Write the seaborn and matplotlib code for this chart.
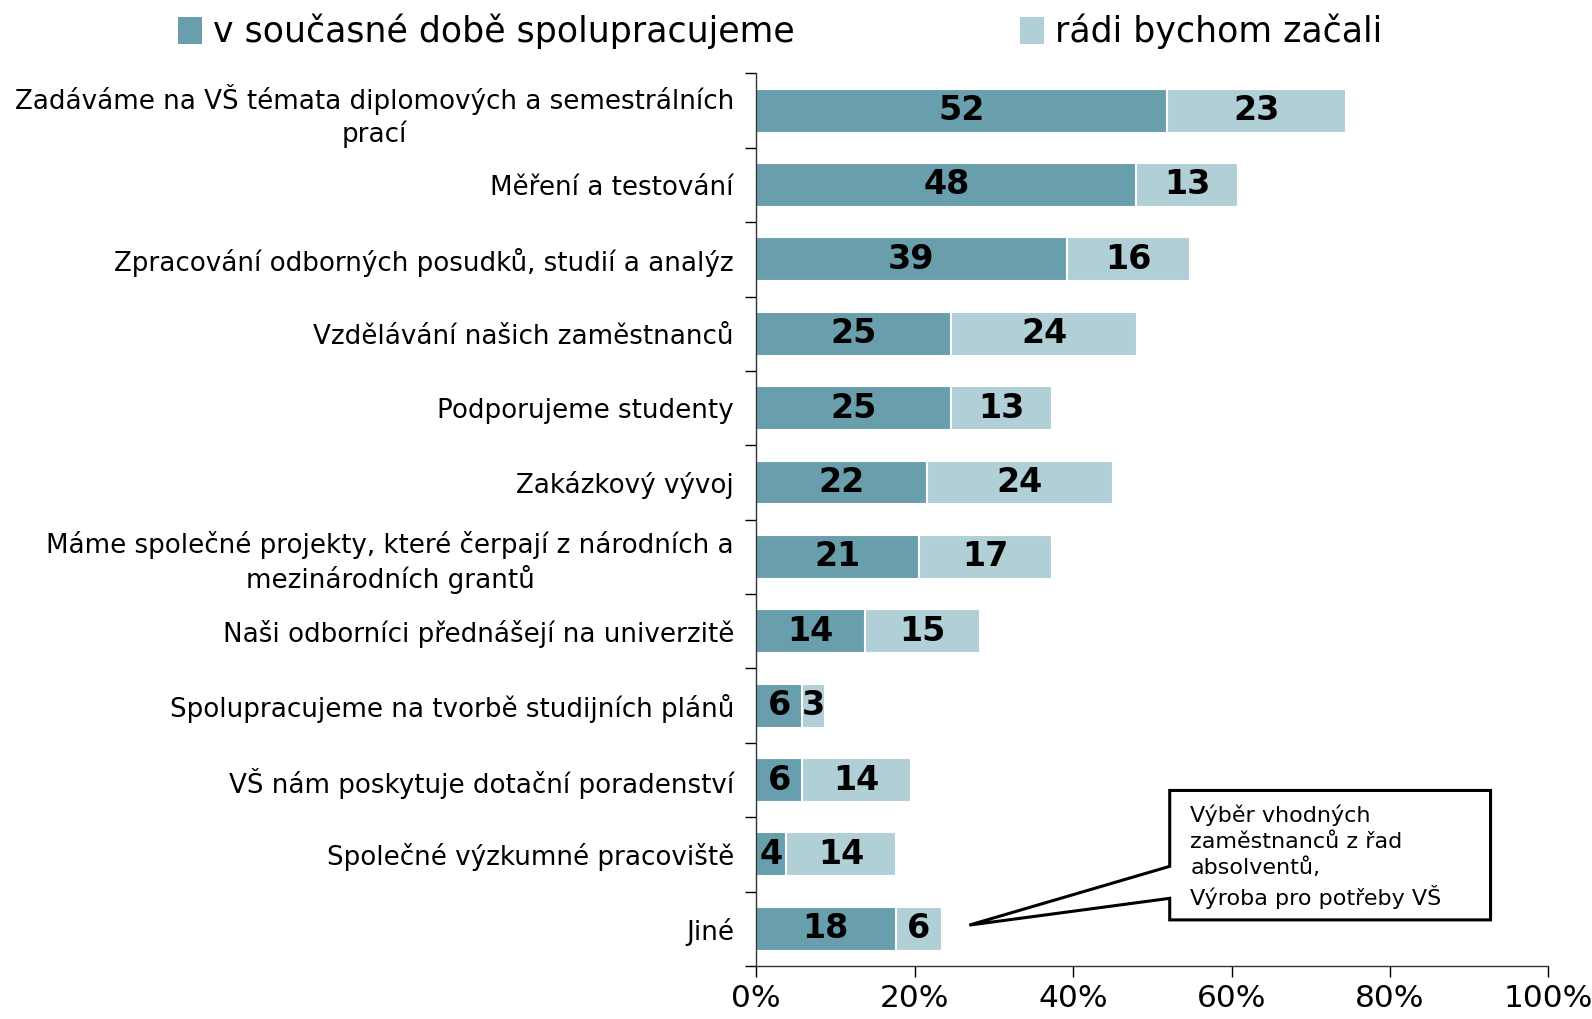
import numpy as np
import pandas as pd
import seaborn as sns
import matplotlib.pyplot as plt
from matplotlib.patches import Polygon, Patch
from matplotlib.ticker import FixedLocator, PercentFormatter

categories = [
    "Zadáváme na VŠ témata diplomových a semestrálních\nprací",
    "Měření a testování",
    "Zpracování odborných posudků, studií a analýz",
    "Vzdělávání našich zaměstnanců",
    "Podporujeme studenty",
    "Zakázkový vývoj",
    "Máme společné projekty, které čerpají z národních a\nmezinárodních grantů",
    "Naši odborníci přednášejí na univerzitě",
    "Spolupracujeme na tvorbě studijních plánů",
    "VŠ nám poskytuje dotační poradenství",
    "Společné výzkumné pracoviště",
    "Jiné",
]
current = [51.9, 48.0, 39.2, 24.6, 24.6, 21.5, 20.6, 13.7, 5.8, 5.8, 3.8, 17.6]
wanted = [22.6, 12.8, 15.5, 23.5, 12.7, 23.5, 16.7, 14.6, 2.9, 13.7, 13.8, 5.9]
series_names = ["v současné době spolupracujeme", "rádi bychom začali"]
callout_text = "Výběr vhodných\nzaměstnanců z řad\nabsolventů,\nVýroba pro potřeby VŠ"

dark = "#699fad"
light = "#b0cfd6"

df = pd.DataFrame({"cat": categories, "current": current, "wanted": wanted})
df["total"] = df["current"] + df["wanted"]

sns.set_style("white")
plt.rcParams["font.family"] = ["DejaVu Sans"]
plt.rcParams["text.color"] = "black"
plt.rcParams["xtick.color"] = "black"
plt.rcParams["ytick.color"] = "black"
plt.rcParams["axes.labelcolor"] = "black"

fig = plt.figure(figsize=(15.92, 10.19), dpi=100)
ax = fig.add_axes([0.475, 0.052, 0.4976, 0.876])

sns.barplot(data=df, y="cat", x="total", color=light, saturation=1, width=0.59,
            edgecolor="white", linewidth=1.5, ax=ax, orient="h")
sns.barplot(data=df, y="cat", x="current", color=dark, saturation=1, width=0.59,
            edgecolor="white", linewidth=1.5, ax=ax, orient="h")

# value labels
for i, (c, w) in enumerate(zip(current, wanted)):
    ax.text(c / 2, i, f"{round(c):d}", ha="center", va="center",
            fontsize=24, fontweight="bold", color="black")
    ax.text(c + w / 2, i, f"{round(w):d}", ha="center", va="center",
            fontsize=24, fontweight="bold", color="black")

ax.set_xlim(0, 100)
ax.set_ylim(len(categories) - 0.5, -0.5)
ax.set_xlabel("")
ax.set_ylabel("")
ax.xaxis.set_major_locator(FixedLocator([0, 20, 40, 60, 80, 100]))
ax.xaxis.set_major_formatter(PercentFormatter(decimals=0))
ax.tick_params(axis="x", direction="out", length=8, width=1, labelsize=22.5,
               pad=5, bottom=True)
ax.tick_params(axis="y", which="major", length=0, labelsize=18.8, pad=16)
ax.yaxis.set_minor_locator(FixedLocator(np.arange(-0.5, len(categories), 1.0)))
ax.tick_params(axis="y", which="minor", direction="out", length=8, width=1, left=True)
for lab in ax.get_yticklabels():
    lab.set_ha("right")
    lab.set_multialignment("center")
    lab.set_linespacing(1.25)

for s in ["top", "right"]:
    ax.spines[s].set_visible(False)
for s in ["left", "bottom"]:
    ax.spines[s].set_color("#333333")
    ax.spines[s].set_linewidth(1)

# callout box with pointer to "Jiné"
x0, x1 = 52.2, 92.7
y0, y1 = 9.14, 10.88
shape = Polygon([(x0, y0), (x1, y0), (x1, y1), (x0, y1), (x0, 10.59),
                 (26.9, 10.95), (x0, 10.16)], closed=True,
                facecolor="white", edgecolor="black", linewidth=2.2, zorder=5,
                clip_on=False)
ax.add_patch(shape)
ax.text(x0 + 2.6, 9.33, callout_text, ha="left", va="top", fontsize=16,
        linespacing=1.35, zorder=6)

handles = [Patch(facecolor=dark, edgecolor="none"), Patch(facecolor=light, edgecolor="none")]
fig.legend(handles, series_names, loc="upper center", bbox_to_anchor=(0.49, 1.017),
           ncol=2, frameon=False, fontsize=25, handlelength=0.7, handleheight=0.8,
           handletextpad=0.3, columnspacing=6.5)

fig.savefig("out.png", dpi=100)
